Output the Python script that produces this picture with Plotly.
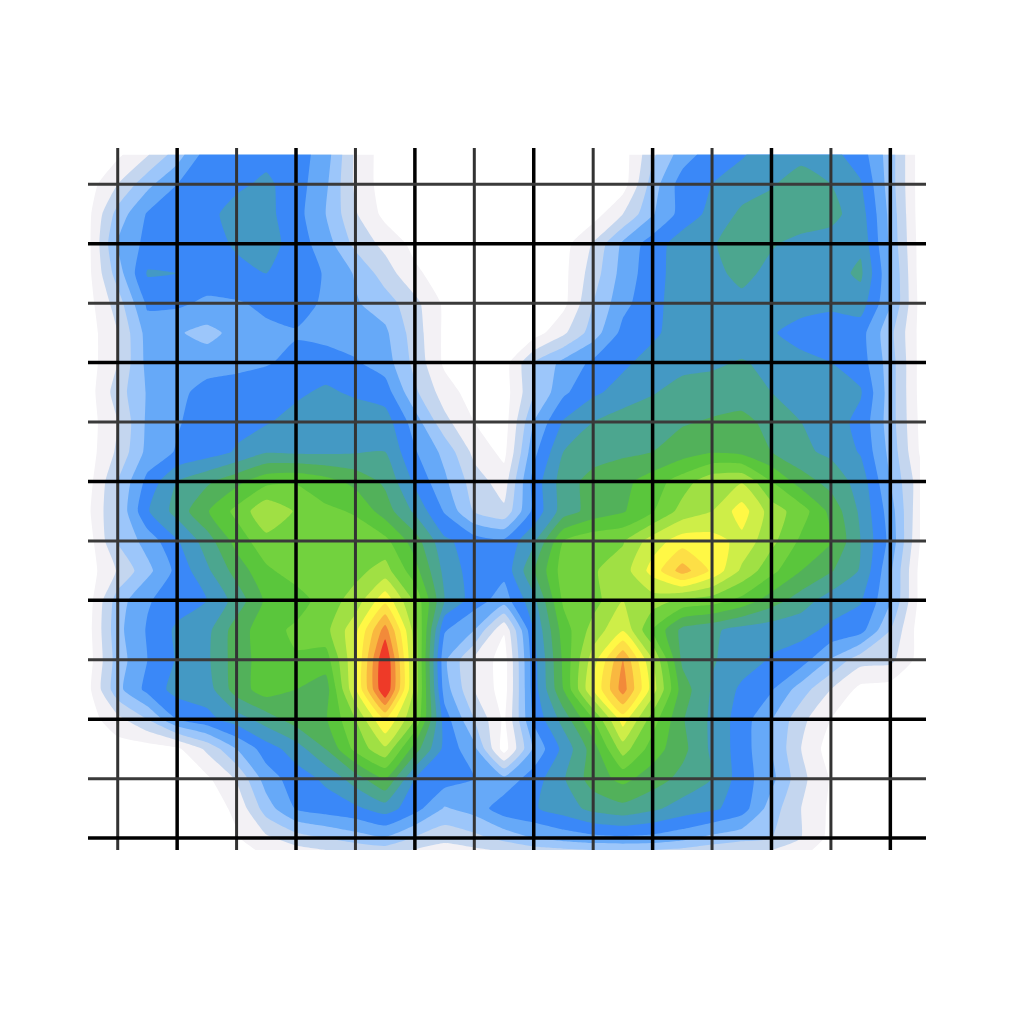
import plotly.graph_objects as go

# density values, one list per row of the grid
row_00 = [0,0.3,1.4,3,5,5.1,5.2,5,4,1.3,0,0,0,0,0,0,0,0,0,2.3,4,5,5.4,6,6.2,5.8,5,3,0]
row_01 = [0,1.5,3.2,4.5,5,5.3,5.7,5,3.7,1.3,0,0,0,0,0,0,0,0,0,3,5,5.5,6,6.4,7,6.5,5.6,3,0]
row_02 = [0.2,2.9,4.6,5,5.2,5.9,5.8,4.9,3.5,1.6,0.2,0,0,0,0,0,0,0,1.5,3.4,4.9,5.8,6.7,7,7.1,6.8,6,3.2,0]
row_03 = [0.2,3.6,4.8,5,5.2,5.6,6,5,4,2.2,1.2,0.2,0,0,0,0,0.1,1.6,3.7,5,6,6.4,7,6.6,6.2,6.1,6.3,3.3,0.1]
row_04 = [0.2,3,5.6,5.5,5.1,5.3,5.5,5.1,4.4,3.4,2,0.7,0,0,0,0,0.2,2,3.9,5.1,6,6.2,6.8,6.2,6,6.1,6.7,3.6,0.1]
row_05 = [0.1,2,4.7,4.7,4.3,4.4,4.7,5,4.3,3.6,3,1.8,0.3,0,0,0,0.2,2.5,4.2,5.2,6,6.1,6.2,6.1,5.9,5.7,6,3.6,0.2]
row_06 = [0,1.5,3.9,3.6,3.2,3.8,4.3,4.4,4.2,4,3.7,2,0.3,0,0,0,1.3,3,4.8,5.3,6,6,5.8,5.6,5.1,5,4.9,2.8,0.2]
row_07 = [0,1.5,3.8,4,4,4.2,4.4,4.8,4.9,4.6,4,2.2,0.3,0,0,2.5,3.8,4.7,5.3,5.9,6.1,6.3,6.6,6.2,5.8,5.5,5,3,0.2]
row_08 = [0,2,3.6,4.2,4.9,5,5.2,5.3,5.7,5.3,5,2.7,1,0,0,2.4,4.3,5.3,5.9,6.4,7,7,7,6.5,6.2,6,5.6,3,0.2]
row_09 = [0,1.5,3.7,4.4,5,5.2,5.4,5.9,6.2,6.3,6,4,1.8,0.5,0,3.5,5.6,6.5,7,7.3,7.4,7.6,7.8,7.2,6.5,6,5.2,3,0.3]
row_10 = [0,1.7,3.8,4.6,5,5.6,6.4,6.3,6.3,6.4,6.5,4.6,3.2,1.2,0.2,4.2,6.5,7,7.3,7.5,8,8.4,8.2,7.5,6.7,6.3,5.4,3.2,0.4]
row_11 = [0.1,2.5,4.8,6.5,7.3,8.2,9.2,9.4,8.9,8.2,7.3,5.3,3.7,2,1,4.9,7,7.9,8.2,9,10,11.2,11.4,9.5,8,7.1,6.1,3.5,0.9]
row_12 = [0.3,2.6,5.4,6.9,8.4,9.8,11.3,10.4,9.7,9.4,8,6.3,4.4,2.4,1.7,4.8,7,7.9,8.4,9.4,10.9,11.5,13,11,10,8.2,6.3,4,0.7]
row_13 = [0,2.6,3.9,5.4,7,8.9,10.2,10.3,10.2,10,9.8,8,5.7,5,4.7,6.3,9.5,10.2,10.4,12,13,12.9,12.2,10.8,9.3,8.6,6.5,4.2,0.5]
row_14 = [0,1.6,3.2,4.8,6.3,7.9,9.3,10,10,10.2,10.9,8.9,6.2,5,4.8,7.4,10,10.4,11,12.9,15,13.3,11.3,9.8,8.5,7.6,6.4,3.7,0.2]
row_15 = [0,3,4.4,5,5.5,6.9,8.7,9,10,10.9,13.2,10.3,6.5,5,4,6.2,9.7,10.1,11.5,11,10.3,10,9.2,8,7,6,5.6,3.6,0.2]
row_16 = [0.1,3.2,4.6,5.7,6.2,8,9.1,9.7,10.2,12.2,16,11,4.6,3.5,0.6,5.5,9,10.9,12.4,9.5,7.2,6.7,6.1,5.9,5.8,5.3,4.9,2.5,0]
row_17 = [0,3,4.5,5.6,6.3,8,9,9.4,9,12.4,17.6,11.2,3.7,1.4,0,5.1,8.7,12,15.5,11.5,7.3,6.6,6,5.4,5,3.4,1.9,1.8,0.1]
row_18 = [0.2,3.2,4.8,5.9,6,8,9,8.5,8,12.4,17.6,11.2,4,1.5,0,5,8.5,12.5,16,12,8,6.4,5.3,4.6,3,1.5,0.2,0,0]
row_19 = [0,1.2,2.5,4.5,5.2,6,7,8,8.4,10.5,13.6,10.5,5,2.5,0.3,4.7,6.9,9.5,13,10,7.6,6.3,5,3.6,1.8,0.5,0,0,0]
row_20 = [0,0,0,0.3,1.7,3.5,5,6,7.5,9.8,11.3,8,5.2,3.8,0,3.7,5.8,8,11,9,7.8,6.3,5,3.5,1.5,0,0,0,0]
row_21 = [0,0,0,0,0.3,1.6,4,5,5.7,7,8.5,5.5,5,4.5,3.8,5,6.4,8,8.8,8,7.2,6.5,5,3.8,1.8,0.4,0,0,0]
row_22 = [0,0,0,0,0,0.7,3,4.6,5,5.3,6,4.9,3.4,3.9,5.1,5.4,6,6.8,7.2,6.7,6.1,5.7,5,3,1.5,0.3,0,0,0]
row_23 = [0,0,0,0,0,0.4,1.3,2,2.5,3,3.4,2.4,1.8,2.2,2.8,3.5,3.9,4.2,4.3,4.2,3.8,3.2,2.8,2.5,1.5,0.2,0,0,0]
row_24 = [0,0,0,0,0,0,0,0,0,0,0,0,0,0,0,0,0,0,0,0,0,0,0,0,0,0,0,0,0]

z_rows = [row_00, row_01, row_02, row_03, row_04, row_05, row_06, row_07, row_08, row_09,
          row_10, row_11, row_12, row_13, row_14, row_15, row_16, row_17, row_18, row_19,
          row_20, row_21, row_22, row_23, row_24]

band_colors = ["#ffffff", "#f3f1f5", "#c4d6ef", "#9cc6fa", "#66a9f8", "#3a88f8",
               "#4499c4", "#4ca68f", "#52b15a", "#5ac63c", "#72d23e", "#a0e044",
               "#ceee48", "#fff845", "#fddf46", "#f9b840", "#f28a3a", "#ee3a28"]

# grid lines alternate between black and dark grey
vlines_dark = [3, 7, 11, 15, 19, 23, 27]
vlines_grey = [1, 5, 9, 13, 17, 21, 25]
hlines_dark = [3, 7, 11, 15, 19, 23]
hlines_grey = [1, 5, 9, 13, 17, 21]

n = len(band_colors)
colorscale = []
for k, c in enumerate(band_colors):
    colorscale.append([k / n, c])
    colorscale.append([(k + 1) / n, c])

fig = go.Figure()

fig.add_trace(go.Contour(
    z=z_rows,
    x=list(range(len(row_00))),
    y=list(range(len(z_rows))),
    colorscale=colorscale,
    zmin=-0.5,
    zmax=n - 0.5,
    showscale=False,
    contours=dict(start=0.5, end=n - 1.5, size=1, coloring="fill", showlines=False),
    line=dict(width=0, smoothing=0.5),
    hoverinfo="skip",
))

for v in vlines_grey:
    fig.add_vline(x=v, line=dict(color="#333333", width=3))
for v in vlines_dark:
    fig.add_vline(x=v, line=dict(color="#000000", width=3.5))
for h in hlines_grey:
    fig.add_hline(y=h, line=dict(color="#3a3a3a", width=3))
for h in hlines_dark:
    fig.add_hline(y=h, line=dict(color="#000000", width=3.5))

# the page body adds 8px round the figure
fig.update_layout(
    width=1008,
    height=1008,
    margin=dict(l=80, r=90, t=140, b=166),
    paper_bgcolor="white",
    plot_bgcolor="white",
    showlegend=False,
    xaxis=dict(visible=False, range=[0, 28.2]),
    yaxis=dict(visible=False, range=[23.4, -0.22]),
)

fig.write_html("out.html")
